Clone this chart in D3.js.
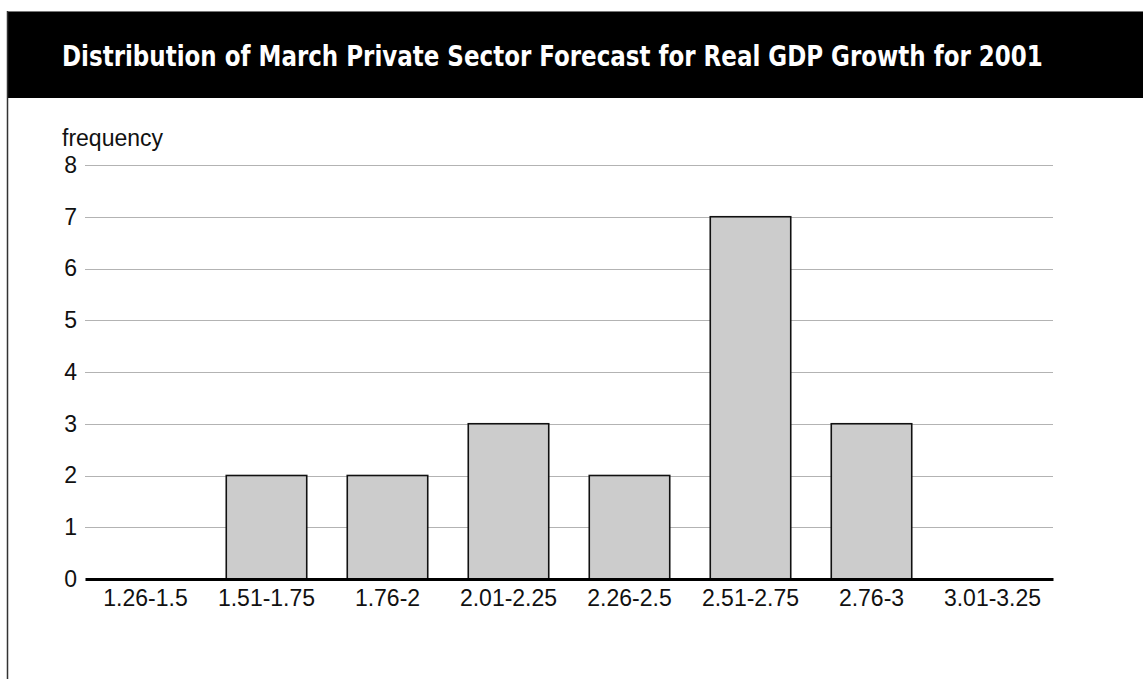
<!DOCTYPE html>
<html>
<head>
<meta charset="utf-8">
<script src="https://cdn.jsdelivr.net/npm/d3@7"></script>
<style>
  html, body { margin: 0; padding: 0; background: #fff; }
  svg { display: block; }
</style>
</head>
<body>
<svg id="chart" width="1143" height="679"></svg>
<script>
// Forecast ranges (percent) and number of forecasters in each
const bins = ["1.26-1.5", "1.51-1.75", "1.76-2", "2.01-2.25", "2.26-2.5", "2.51-2.75", "2.76-3", "3.01-3.25"];
const frequency = [0, 2, 2, 3, 2, 7, 3, 0];
const yTicks = [0, 1, 2, 3, 4, 5, 6, 7, 8];
const title = "Distribution of March Private Sector Forecast for Real GDP Growth for 2001";

const svg = d3.select("#chart");
const W = 1143, H = 679;
const plot = { left: 85, right: 1053, top: 165, bottom: 579 };

// Frame: title banner plus thin outline on the left
svg.append("rect").attr("x", 7).attr("y", 11).attr("width", W - 7).attr("height", 87).attr("fill", "#000");
svg.append("line").attr("x1", 7).attr("x2", W).attr("y1", 11.5).attr("y2", 11.5).attr("stroke", "#777").attr("stroke-width", 1);
svg.append("line").attr("x1", 7.5).attr("x2", 7.5).attr("y1", 11).attr("y2", H).attr("stroke", "#333").attr("stroke-width", 1.5);

// Title in a condensed bold face, squeezed horizontally to fit the banner
const titleG = svg.append("g");
const titleText = titleG.append("text")
  .attr("x", 0).attr("y", 0)
  .attr("fill", "#fff")
  .attr("font-family", "'Liberation Sans Narrow', 'DejaVu Sans Condensed', 'Liberation Sans', sans-serif")
  .attr("font-weight", "bold")
  .attr("font-size", 29)
  .text(title);
const natural = titleText.node().getComputedTextLength();
const titleWidth = 981;
titleG.attr("transform", `translate(62,66) scale(${titleWidth / natural},1)`);

const x = d3.scaleBand().domain(bins).range([plot.left, plot.right]).paddingInner(0.335).paddingOuter(0.1675);
const y = d3.scaleLinear().domain([0, 8]).range([plot.bottom, plot.top]);

const font = "'Liberation Sans', Arial, Helvetica, sans-serif";
const fs = 23;

// Horizontal gridlines
svg.append("g")
  .selectAll("line")
  .data(yTicks.filter(d => d > 0))
  .join("line")
  .attr("x1", plot.left).attr("x2", plot.right)
  .attr("y1", d => Math.round(y(d)) + 0.5).attr("y2", d => Math.round(y(d)) + 0.5)
  .attr("stroke", "#b3b3b3").attr("stroke-width", 1);

// Y axis labels
const yAxis = d3.axisLeft(y).tickValues(yTicks).tickSize(0).tickPadding(8);
const yg = svg.append("g").attr("transform", `translate(${plot.left},0)`).call(yAxis);
yg.select(".domain").remove();
yg.selectAll("text").attr("font-family", font).attr("font-size", fs).attr("fill", "#111");

svg.append("text")
  .attr("x", 62).attr("y", 146)
  .attr("font-family", font).attr("font-size", fs).attr("fill", "#111")
  .text("frequency");

// Bars
svg.append("g")
  .selectAll("rect")
  .data(bins.map((b, i) => ({ bin: b, value: frequency[i] })).filter(d => d.value > 0))
  .join("rect")
  .attr("x", d => x(d.bin))
  .attr("y", d => y(d.value))
  .attr("width", x.bandwidth())
  .attr("height", d => y(0) - y(d.value))
  .attr("fill", "#cccccc")
  .attr("stroke", "#111")
  .attr("stroke-width", 1.6);

// X axis with heavy baseline
const xAxis = d3.axisBottom(x).tickSize(0).tickPadding(11);
const xg = svg.append("g").attr("transform", `translate(0,${plot.bottom})`).call(xAxis);
xg.select(".domain").attr("stroke", "#000").attr("stroke-width", 3);
xg.selectAll("text").attr("font-family", font).attr("font-size", fs).attr("fill", "#111");
</script>
</body>
</html>
